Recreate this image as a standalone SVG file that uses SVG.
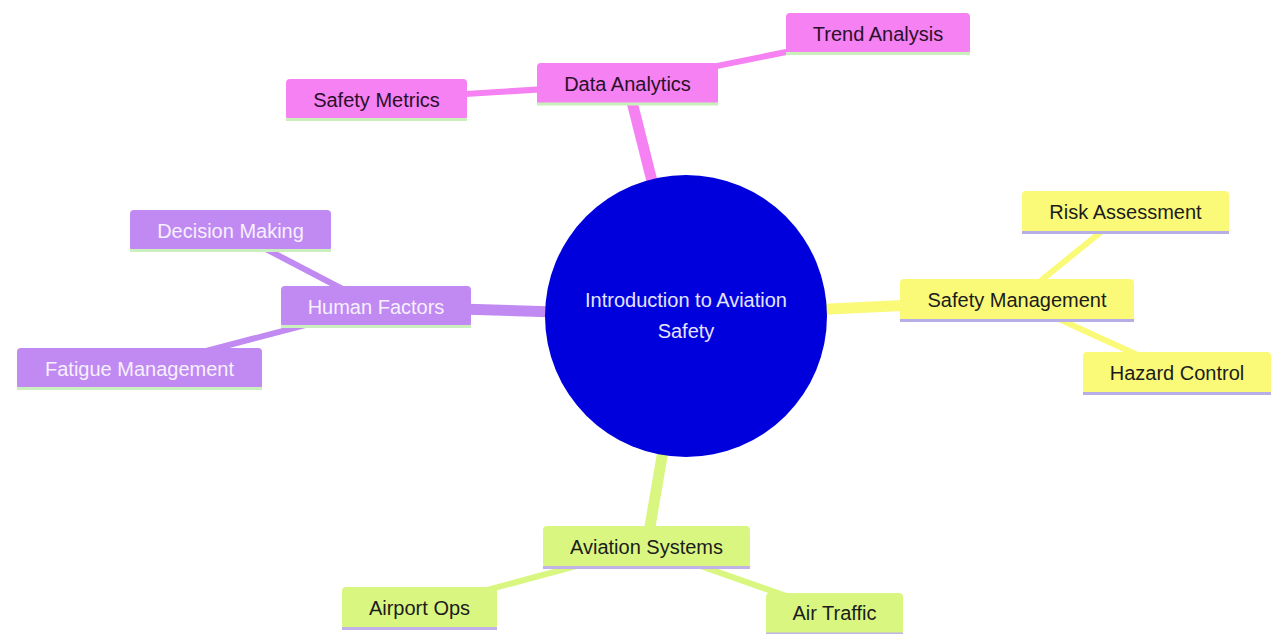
<svg xmlns="http://www.w3.org/2000/svg" width="1272" height="634" viewBox="0 0 1272 634">
<style>
text{font-family:"Liberation Sans",Arial,sans-serif;font-size:20px;text-anchor:middle;dominant-baseline:central}
.e1{stroke-width:11;fill:none}
.e2{stroke-width:6;fill:none}
.pk{fill:#f581f2}.pkE{stroke:#f581f2}.pkL{stroke:#c9efbb}.pkT{fill:#2a102a}
.pu{fill:#c08af2}.puE{stroke:#c08af2}.puL{stroke:#cbefbf}.puT{fill:#f6f0ff}
.ye{fill:#fafa78}.yeE{stroke:#fafa78}.yeL{stroke:#b6aee6}.yeT{fill:#1c1c1c}
.gr{fill:#d9f780}.grE{stroke:#d9f780}.grL{stroke:#c0b2e6}.grT{fill:#1c1c1c}
.ln{stroke-width:3}
</style>
<rect width="1272" height="634" fill="#ffffff"/>
<g id="connectors">
<line class="e1 pkE" x1="686" y1="316" x2="627.5" y2="84"/>
<line class="e2 pkE" x1="627.5" y1="84" x2="878" y2="33.5"/>
<line class="e2 pkE" x1="627.5" y1="84" x2="376.5" y2="99.5"/>
<line class="e1 puE" x1="686" y1="316" x2="376" y2="306.5"/>
<line class="e2 puE" x1="376" y1="306.5" x2="230.5" y2="230.5"/>
<line class="e2 puE" x1="376" y1="306.5" x2="139.5" y2="368.5"/>
<line class="e1 yeE" x1="686" y1="316" x2="1017" y2="300"/>
<line class="e2 yeE" x1="1017" y1="300" x2="1125.5" y2="212"/>
<line class="e2 yeE" x1="1017" y1="300" x2="1177" y2="373"/>
<line class="e1 grE" x1="686" y1="316" x2="646.5" y2="547"/>
<line class="e2 grE" x1="646.5" y1="547" x2="420" y2="608"/>
<line class="e2 grE" x1="646.5" y1="547" x2="834.5" y2="613"/>
</g>
<g id="root">
<circle cx="686" cy="316" r="141" fill="#0000dd"/>
<text x="686" y="300" fill="#e4e4ff">Introduction to Aviation</text>
<text x="686" y="331" fill="#e4e4ff">Safety</text>
</g>
<g id="data-analytics">
<rect class="pk" x="537" y="63" width="181" height="42" rx="4"/>
<line class="pkL ln" x1="537" y1="104" x2="718" y2="104"/>
<text class="pkT" x="627.5" y="84">Data Analytics</text>
</g>
<g id="trend-analysis">
<rect class="pk" x="786" y="13" width="184" height="41" rx="4"/>
<line class="pkL ln" x1="786" y1="53.5" x2="970" y2="53.5"/>
<text class="pkT" x="878" y="33.5">Trend Analysis</text>
</g>
<g id="safety-metrics">
<rect class="pk" x="286" y="79" width="181" height="41" rx="4"/>
<line class="pkL ln" x1="286" y1="119.5" x2="467" y2="119.5"/>
<text class="pkT" x="376.5" y="99.5">Safety Metrics</text>
</g>
<g id="human-factors">
<rect class="pu" x="281" y="286" width="190" height="41" rx="4"/>
<line class="puL ln" x1="281" y1="326.5" x2="471" y2="326.5"/>
<text class="puT" x="376" y="306.5">Human Factors</text>
</g>
<g id="decision-making">
<rect class="pu" x="130" y="210" width="201" height="41" rx="4"/>
<line class="puL ln" x1="130" y1="250.5" x2="331" y2="250.5"/>
<text class="puT" x="230.5" y="230.5">Decision Making</text>
</g>
<g id="fatigue-management">
<rect class="pu" x="17" y="348" width="245" height="41" rx="4"/>
<line class="puL ln" x1="17" y1="388.5" x2="262" y2="388.5"/>
<text class="puT" x="139.5" y="368.5">Fatigue Management</text>
</g>
<g id="safety-management">
<rect class="ye" x="900" y="279" width="234" height="42" rx="4"/>
<line class="yeL ln" x1="900" y1="320.5" x2="1134" y2="320.5"/>
<text class="yeT" x="1017" y="300">Safety Management</text>
</g>
<g id="risk-assessment">
<rect class="ye" x="1022" y="191" width="207" height="42" rx="4"/>
<line class="yeL ln" x1="1022" y1="232.5" x2="1229" y2="232.5"/>
<text class="yeT" x="1125.5" y="212">Risk Assessment</text>
</g>
<g id="hazard-control">
<rect class="ye" x="1083" y="352" width="188" height="42" rx="4"/>
<line class="yeL ln" x1="1083" y1="393.5" x2="1271" y2="393.5"/>
<text class="yeT" x="1177" y="373">Hazard Control</text>
</g>
<g id="aviation-systems">
<rect class="gr" x="543" y="526" width="207" height="42" rx="4"/>
<line class="grL ln" x1="543" y1="567.5" x2="750" y2="567.5"/>
<text class="grT" x="646.5" y="547">Aviation Systems</text>
</g>
<g id="airport-ops">
<rect class="gr" x="342" y="587" width="155" height="42" rx="4"/>
<line class="grL ln" x1="342" y1="628.5" x2="497" y2="628.5"/>
<text class="grT" x="419.5" y="608">Airport Ops</text>
</g>
<g id="air-traffic">
<rect class="gr" x="766" y="593" width="137" height="42" rx="4"/>
<line class="grL ln" x1="766" y1="634" x2="903" y2="634"/>
<text class="grT" x="834.5" y="613">Air Traffic</text>
</g>
</svg>
